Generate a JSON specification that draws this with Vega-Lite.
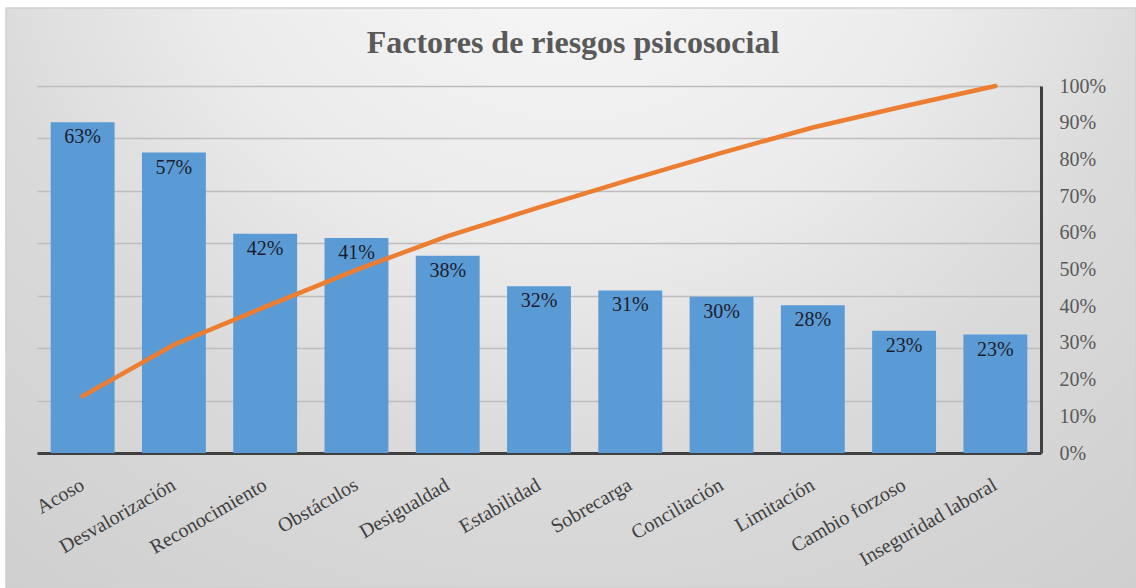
{
  "$schema": "https://vega.github.io/schema/vega-lite/v6.json",
  "width": 1130,
  "height": 580,
  "autosize": "none",
  "padding": {"left": 6, "top": 8, "right": 0, "bottom": 0},
  "background": "#ffffff",
  "title": {
    "text": "Factores de riesgos psicosocial",
    "font": "Liberation Serif",
    "fontSize": 32,
    "fontWeight": "bold",
    "color": "#595959",
    "anchor": "middle",
    "frame": "group",
    "dx": 2,
    "offset": -52
  },
  "config": {
    "view": {
      "stroke": "#cfcfcf",
      "strokeWidth": 1.5,
      "fill": {
        "gradient": "radial",
        "x1": 0.5, "y1": 0.1, "r1": 0,
        "x2": 0.5, "y2": 0.1, "r2": 1.0,
        "stops": [
          {"offset": 0, "color": "#fbfbfb"},
          {"offset": 0.35, "color": "#ebebeb"},
          {"offset": 0.55, "color": "#dadada"},
          {"offset": 1, "color": "#c8c8c8"}
        ]
      }
    }
  },
  "data": {
    "values": [
      {"factor": "Acoso", "pct": 0.631, "cum": 0.155},
      {"factor": "Desvalorización", "pct": 0.573, "cum": 0.295},
      {"factor": "Reconocimiento", "pct": 0.418, "cum": 0.398},
      {"factor": "Obstáculos", "pct": 0.41, "cum": 0.499},
      {"factor": "Desigualdad", "pct": 0.376, "cum": 0.591},
      {"factor": "Estabilidad", "pct": 0.318, "cum": 0.669},
      {"factor": "Sobrecarga", "pct": 0.31, "cum": 0.745},
      {"factor": "Conciliación", "pct": 0.298, "cum": 0.818},
      {"factor": "Limitación", "pct": 0.282, "cum": 0.887},
      {"factor": "Cambio forzoso", "pct": 0.233, "cum": 0.945},
      {"factor": "Inseguridad laboral", "pct": 0.226, "cum": 1.0}
    ]
  },
  "encoding": {
    "x": {
      "field": "factor",
      "type": "nominal",
      "sort": null,
      "scale": {"range": [31, 1035], "paddingInner": 0.3, "paddingOuter": 0.15},
      "axis": {
        "title": null,
        "offset": -135,
        "labelAngle": -30,
        "labelAlign": "right",
        "labelBaseline": "middle",
        "labelFont": "Liberation Serif",
        "labelFontSize": 20,
        "labelColor": "#404040",
        "ticks": false,
        "labelPadding": 30,
        "domainColor": "#404040",
        "domainWidth": 3,
        "grid": false
      }
    }
  },
  "layer": [
    {
      "layer": [
        {
          "mark": {"type": "bar", "color": "#5B9BD5"},
          "encoding": {
            "y": {
              "field": "pct",
              "type": "quantitative",
              "scale": {"domain": [0, 0.7], "range": [445, 78]},
              "axis": {
                "title": null,
                "labels": false,
                "ticks": false,
                "domain": false,
                "grid": true,
                "gridColor": "#bdbdbd",
                "gridWidth": 1.5,
                "values": [0, 0.1, 0.2, 0.3, 0.4, 0.5, 0.6, 0.7]
              }
            }
          }
        },
        {
          "mark": {
            "type": "text",
            "align": "center",
            "baseline": "top",
            "dy": 5,
            "font": "Liberation Serif",
            "fontSize": 20,
            "color": "#1c1c2c"
          },
          "encoding": {
            "y": {"field": "pct", "type": "quantitative"},
            "text": {"field": "pct", "type": "quantitative", "format": ".0%"}
          }
        }
      ]
    },
    {
      "mark": {"type": "line", "color": "#ED7D31", "strokeWidth": 4.5, "strokeCap": "round"},
      "encoding": {
        "y": {
          "field": "cum",
          "type": "quantitative",
          "scale": {"domain": [0, 1], "range": [445, 78]},
          "axis": {
            "orient": "right",
            "offset": -95,
            "title": null,
            "format": ".0%",
            "values": [0, 0.1, 0.2, 0.3, 0.4, 0.5, 0.6, 0.7, 0.8, 0.9, 1.0],
            "labelFont": "Liberation Serif",
            "labelFontSize": 20,
            "labelColor": "#595959",
            "ticks": false,
            "labelPadding": 18,
            "domainColor": "#404040",
            "domainWidth": 3,
            "grid": false
          }
        }
      }
    }
  ],
  "resolve": {"scale": {"y": "independent"}}
}
